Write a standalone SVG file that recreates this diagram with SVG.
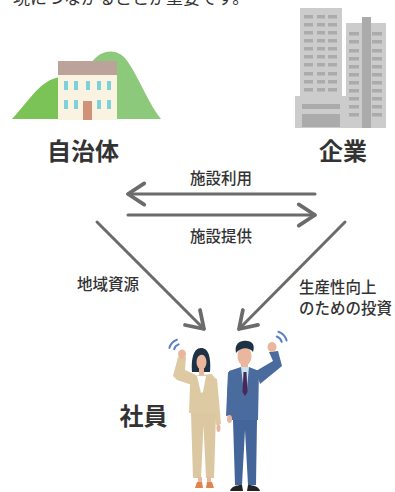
<svg xmlns="http://www.w3.org/2000/svg" width="395" height="492" viewBox="0 0 395 492">
  <style>
    .jp { font-family: "Noto Sans CJK JP", "Noto Sans", sans-serif; fill: #333333; }
    .head { font-size: 24px; font-weight: 700; text-anchor: middle; }
    .lbl { font-size: 15.5px; font-weight: 500; }
    .conn { stroke: #6b6b6b; stroke-width: 3; fill: none; stroke-linecap: round; }
    .win { fill: #7fd0d8; }
    .ow { fill: #ababab; }
    .skin { fill: #ebb69e; }
    .hair { fill: #1e3246; }
    .wave { stroke: #5b7fc9; stroke-width: 2; fill: none; stroke-linecap: round; }
    .beige { fill: #ddc9a2; }
    .suit { fill: #4a6b9d; }
  </style>
  <defs>
    <marker id="head" markerUnits="userSpaceOnUse" orient="auto" refX="0" refY="0" markerWidth="30" markerHeight="30" viewBox="-16 -12 20 24" overflow="visible">
      <path d="M -13 -8.5 L 0 0 L -13 8.5" stroke="#6b6b6b" stroke-width="3" fill="none" stroke-linecap="round" stroke-linejoin="round"/>
    </marker>
  </defs>
  <rect width="395" height="492" fill="#ffffff"/>

  <!-- lead sentence, its upper half runs off the top edge -->
  <text class="jp" x="13" y="3.5" font-size="17">現につながることが重要です。</text>

  <!-- municipality: hills and town hall -->
  <g id="jichitai">
    <path d="M 12 119 C 30 100 40 80 60 77 L 60 119 Z" fill="#7bc257"/>
    <path d="M 92 62 C 100 50 118 46 128 62 C 140 80 150 106 161 119 L 92 119 Z" fill="#8cc97a"/>
    <rect x="58" y="61" width="59" height="14" fill="#bca399"/>
    <rect x="58" y="75" width="59" height="45" fill="#faf3e1"/>
    <rect class="win" x="64" y="81" width="4" height="9"/>
    <rect class="win" x="74" y="81" width="4" height="9"/>
    <rect class="win" x="86" y="81" width="4" height="9"/>
    <rect class="win" x="97" y="81" width="4" height="9"/>
    <rect class="win" x="107" y="81" width="4" height="9"/>
    <rect class="win" x="64" y="100" width="4" height="9"/>
    <rect class="win" x="74" y="100" width="4" height="9"/>
    <rect class="win" x="97" y="100" width="4" height="9"/>
    <rect class="win" x="107" y="100" width="4" height="9"/>
    <rect x="83" y="101" width="9" height="19" fill="#d0937a"/>
    <text class="jp head" x="83" y="160">自治体</text>
  </g>

  <!-- company: office towers -->
  <g id="kigyou">
    <rect x="300" y="8" width="42" height="90" fill="#cccccc"/>
    <g class="ow">
      <rect x="304" y="15" width="9" height="3.5"/><rect x="317" y="15" width="8" height="3.5"/><rect x="328" y="15" width="9" height="3.5"/>
      <rect x="304" y="23" width="9" height="3.5"/><rect x="317" y="23" width="8" height="3.5"/><rect x="328" y="23" width="9" height="3.5"/>
      <rect x="304" y="31" width="9" height="3.5"/><rect x="317" y="31" width="8" height="3.5"/><rect x="328" y="31" width="9" height="3.5"/>
      <rect x="304" y="39" width="9" height="3.5"/><rect x="317" y="39" width="8" height="3.5"/><rect x="328" y="39" width="9" height="3.5"/>
      <rect x="304" y="47" width="9" height="3.5"/><rect x="317" y="47" width="8" height="3.5"/><rect x="328" y="47" width="9" height="3.5"/>
      <rect x="304" y="55" width="9" height="3.5"/><rect x="317" y="55" width="8" height="3.5"/><rect x="328" y="55" width="9" height="3.5"/>
      <rect x="304" y="63" width="9" height="3.5"/><rect x="317" y="63" width="8" height="3.5"/><rect x="328" y="63" width="9" height="3.5"/>
      <rect x="304" y="72" width="9" height="3.5"/><rect x="317" y="72" width="8" height="3.5"/><rect x="328" y="72" width="9" height="3.5"/>
      <rect x="304" y="80" width="9" height="3.5"/><rect x="317" y="80" width="8" height="3.5"/><rect x="328" y="80" width="9" height="3.5"/>
      <rect x="304" y="88" width="9" height="3.5"/><rect x="317" y="88" width="8" height="3.5"/><rect x="328" y="88" width="9" height="3.5"/>
    </g>
    <rect x="295" y="96" width="51" height="32" fill="#cccccc"/>
    <rect x="302" y="104" width="38" height="5" fill="#ababab"/>
    <rect x="302" y="114" width="38" height="13" fill="#ababab"/>
    <rect x="346" y="23" width="40" height="105" fill="#cccccc"/>
    <rect x="362" y="17" width="9" height="111" fill="#ababab"/>
    <g class="ow">
      <rect x="349" y="32" width="10" height="3.5"/><rect x="372" y="32" width="10" height="3.5"/>
      <rect x="349" y="40" width="10" height="3.5"/><rect x="372" y="40" width="10" height="3.5"/>
      <rect x="349" y="49" width="10" height="3.5"/><rect x="372" y="49" width="10" height="3.5"/>
      <rect x="349" y="57" width="10" height="3.5"/><rect x="372" y="57" width="10" height="3.5"/>
      <rect x="349" y="65" width="10" height="3.5"/><rect x="372" y="65" width="10" height="3.5"/>
      <rect x="349" y="73" width="10" height="3.5"/><rect x="372" y="73" width="10" height="3.5"/>
      <rect x="349" y="81" width="10" height="3.5"/><rect x="372" y="81" width="10" height="3.5"/>
      <rect x="349" y="89" width="10" height="3.5"/><rect x="372" y="89" width="10" height="3.5"/>
      <rect x="349" y="97" width="10" height="3.5"/><rect x="372" y="97" width="10" height="3.5"/>
      <rect x="349" y="105" width="10" height="3.5"/><rect x="372" y="105" width="10" height="3.5"/>
      <rect x="349" y="113" width="10" height="3.5"/><rect x="372" y="113" width="10" height="3.5"/>
    </g>
    <text class="jp head" x="343" y="160">企業</text>
  </g>

  <!-- employees -->
  <g id="shain">
    <text class="jp head" x="143.5" y="425">社員</text>
    <!-- woman in beige suit -->
    <path class="wave" d="M 169.4 347.9 A 12 12 0 0 1 176.9 339.7"/>
    <path class="wave" d="M 174.2 349.2 A 7 7 0 0 1 178.6 344.4"/>
    <path class="hair" d="M 192 372 C 191 360 193 348 201 348 C 209 348 211 358 210 372 Z"/>
    <rect class="skin" x="199" y="366" width="5" height="10"/>
    <ellipse class="skin" cx="201.5" cy="362" rx="5" ry="7.5"/>
    <path class="hair" d="M 195.5 359 C 195 350 208 349 208 357 C 204 353 199 354 195.5 359 Z"/>
    <path class="beige" d="M 191 376 L 212 374 L 216 380 L 218 413 L 189 413 L 190 386 Z"/>
    <path d="M 197 376 L 206 376 L 203 392 L 201 393 Z" fill="#ffffff"/>
    <path class="beige" d="M 178 357 L 186 357 L 185 370 L 196 375 L 195 386 L 177 380 L 173 376 Z"/>
    <ellipse class="skin" cx="182" cy="354" rx="4" ry="4.5"/>
    <path class="beige" d="M 212 377 L 217 379 L 221 424 L 216 425 L 213 400 Z"/>
    <ellipse class="skin" cx="218.5" cy="428" rx="2" ry="4"/>
    <path d="M 191 413 L 216 413 L 214 478 L 206 478 L 203.5 425 L 201 478 L 193 478 Z" fill="#dbc7a0"/>
    <rect class="skin" x="198" y="477" width="4" height="6"/>
    <rect class="skin" x="207" y="477" width="4" height="6"/>
    <path d="M 195 488 L 197 482 L 202 482 L 203 488 Z" fill="#e0844f"/>
    <path d="M 206 488 L 207 482 L 212 482 L 214 488 Z" fill="#e0844f"/>
    <!-- man in blue suit -->
    <path class="wave" d="M 278.4 331.8 A 13 13 0 0 1 286.6 340.6"/>
    <path class="wave" d="M 276.7 336.5 A 8 8 0 0 1 281.7 341.9"/>
    <rect class="skin" x="241" y="361" width="7" height="9"/>
    <ellipse class="skin" cx="244.5" cy="356" rx="7" ry="10"/>
    <path class="hair" d="M 236 353 C 234 343 241 340 247 341 C 253 341 255 346 253 352 C 249 347 241 347 236 353 Z"/>
    <path class="suit" d="M 229 371 L 241 367 L 249 367 L 259 371 L 258 420 L 229 420 L 227 395 Z"/>
    <path d="M 241 367 L 249 367 L 246.5 393 L 244 393 Z" fill="#cbe5ef"/>
    <path d="M 243.5 372 L 246.5 372 L 247.5 392 L 245 396 L 242.5 392 Z" fill="#4a2757"/>
    <path class="suit" d="M 256 371 L 273 361 L 269 352 L 278 351 L 282 366 L 260 384 Z"/>
    <ellipse class="skin" cx="272" cy="347" rx="4.5" ry="5"/>
    <path class="suit" d="M 228 372 L 233 374 L 234 415 L 226 416 Z"/>
    <ellipse class="skin" cx="229.5" cy="419" rx="2.5" ry="4"/>
    <path d="M 233 420 L 257 420 L 256 485 L 248 485 L 245 430 L 242 485 L 235 485 Z" fill="#44659a"/>
    <path d="M 230 491 C 231 487 236 485 242 485 L 243 491 Z" fill="#222222"/>
    <path d="M 247 491 L 248 485 C 254 485 259 487 260 491 Z" fill="#222222"/>
  </g>

  <!-- connectors -->
  <g id="connectors">
    <line class="conn" x1="315" y1="194" x2="128" y2="194" marker-end="url(#head)"/>
    <line class="conn" x1="128" y1="215" x2="315" y2="215" marker-end="url(#head)"/>
    <line class="conn" x1="97" y1="222" x2="204" y2="329" marker-end="url(#head)"/>
    <line class="conn" x1="345" y1="222" x2="239" y2="329" marker-end="url(#head)"/>
    <text class="jp lbl" x="221" y="184" text-anchor="middle">施設利用</text>
    <text class="jp lbl" x="221" y="242" text-anchor="middle">施設提供</text>
    <text class="jp lbl" x="77" y="290">地域資源</text>
    <text class="jp lbl" x="299" y="293">生産性向上</text>
    <text class="jp lbl" x="299" y="314">のための投資</text>
  </g>
</svg>
